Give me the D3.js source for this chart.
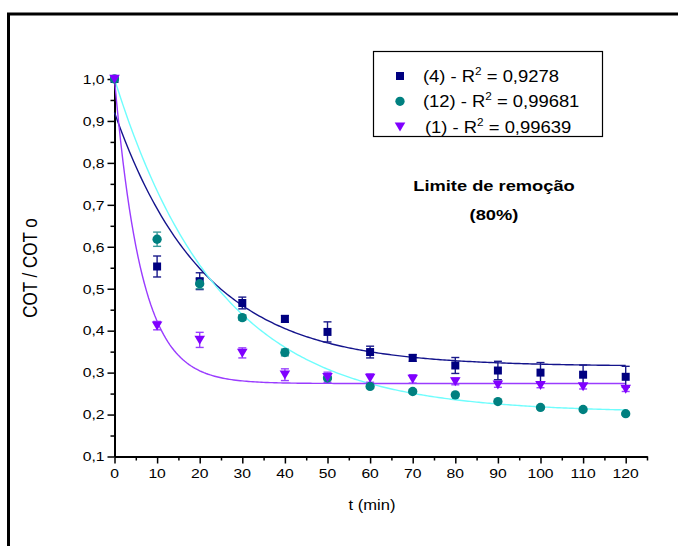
<!DOCTYPE html>
<html><head><meta charset="utf-8">
<script src="https://cdn.jsdelivr.net/npm/d3@7"></script>
<style>
body{margin:0;background:#fff;}
svg{display:block;font-family:"Liberation Sans",Arial,Helvetica,sans-serif;}
</style>
</head><body>
<svg id="chart" width="678" height="546"></svg>
<script>
// Sampling times (min)
const times = [0, 10, 20, 30, 40, 50, 60, 70, 80, 90, 100, 110, 120];

// COT / COT0 per run, with standard deviations
const run4 = [1.0, 0.553, 0.518, 0.466, 0.428, 0.397, 0.349, 0.335, 0.317, 0.305, 0.300, 0.295, 0.290];
const run4Err = [0, 0.025, 0.020, 0.014, 0.008, 0.024, 0.014, 0.008, 0.019, 0.022, 0.024, 0.023, 0.025];
const run12 = [1.0, 0.618, 0.512, 0.431, 0.348, 0.287, 0.267, 0.255, 0.247, 0.231, 0.217, 0.212, 0.202];
const run12Err = [0, 0.017, 0.012, 0.006, 0.008, 0.004, 0.004, 0.004, 0.003, 0.003, 0.003, 0.003, 0.003];
const run1 = [1.0, 0.412, 0.378, 0.347, 0.295, 0.289, 0.287, 0.285, 0.279, 0.271, 0.270, 0.267, 0.261];
const run1Err = [0, 0.010, 0.018, 0.012, 0.014, 0.012, 0.010, 0.010, 0.008, 0.006, 0.006, 0.006, 0.006];

// First-order exponential decay fits: y = y0 + A*exp(-t/tau)
const fitY0 = [0.315, 0.205, 0.274];
const fitA = [0.605, 0.795, 0.726];
const fitTau = [21, 24.5, 6.3];

// Legend entries
const legendLabels = ["(4)", "(12)", " (1)"];
const legendR2 = ["0,9278", "0,99681", "0,99639"];

// Axis ticks
const xTicks = [0, 10, 20, 30, 40, 50, 60, 70, 80, 90, 100, 110, 120];
const yTicks = [0.1, 0.2, 0.3, 0.4, 0.5, 0.6, 0.7, 0.8, 0.9, 1.0];

const SX = 1.18; // horizontal glyph stretch
const svg = d3.select("#chart");

// outer frame
svg.append("rect").attr("x", 8.5).attr("y", 14).attr("width", 720).attr("height", 620)
  .attr("fill", "none").attr("stroke", "#000").attr("stroke-width", 3);

const x = d3.scaleLinear().domain([0, 125]).range([114.5, 647]);
const y = d3.scaleLinear().domain([0.1, 1.0]).range([456.5, 79]);

function stext(parent, px, py, str, size, anchor, opts = {}) {
  const g = parent.append("g")
    .attr("transform", `translate(${px},${py}) scale(${SX},1)` + (opts.rotate ? ` rotate(${opts.rotate})` : ""));
  const t = g.append("text").attr("x", 0).attr("y", 0)
    .attr("font-size", size).attr("text-anchor", anchor).attr("fill", "#000");
  if (opts.bold) t.attr("font-weight", "bold");
  t.text(str);
  return t;
}

// axes: major and minor ticks
const axG = svg.append("g");
const xMinor = d3.range(5, 126, 10);
const yMinor = d3.range(0.15, 1.0, 0.1);

axG.append("g").attr("transform", `translate(0,${y(0.1)})`)
  .call(d3.axisBottom(x).tickValues(xTicks).tickSize(7).tickSizeOuter(0).tickFormat(""));
axG.append("g").attr("transform", `translate(0,${y(0.1)})`)
  .call(d3.axisBottom(x).tickValues(xMinor).tickSize(4).tickSizeOuter(0).tickFormat(""));
axG.append("g").attr("transform", `translate(${x(0)},0)`)
  .call(d3.axisLeft(y).tickValues(yTicks).tickSize(7).tickSizeOuter(0).tickFormat(""));
axG.append("g").attr("transform", `translate(${x(0)},0)`)
  .call(d3.axisLeft(y).tickValues(yMinor).tickSize(4).tickSizeOuter(0).tickFormat(""));
axG.selectAll(".domain").attr("stroke", "#000").attr("stroke-width", 2);
axG.selectAll(".tick line").attr("stroke", "#000").attr("stroke-width", 1.5);

const fmt = d3.format(".1f");
xTicks.forEach(v => stext(svg, x(v), 477.5, String(v), 13.3, "middle"));
yTicks.forEach(v => stext(svg, x(0) - 10, y(v) + 4.8, fmt(v).replace(".", ","), 13.3, "end"));

stext(svg, 372, 510, "t (min)", 14, "middle");
stext(svg, 37, 268, "COT / COT o", 17, "middle", { rotate: -90 });

// fitted curves
const colors = ["#000080", "#008080", "#8000ff"];
const lineColors = ["#14148c", "#6ffdfd", "#9a3cff"];
const tGrid = d3.range(0, 120.01, 0.5);
const line = d3.line().x(d => x(d[0])).y(d => y(d[1]));
[0, 1, 2].forEach(i => {
  const pts = tGrid.map(t => [t, fitY0[i] + fitA[i] * Math.exp(-t / fitTau[i])]);
  svg.append("path").attr("d", line(pts)).attr("fill", "none")
    .attr("stroke", lineColors[i]).attr("stroke-width", 1.4);
});

// error bars
const series = [
  { v: run4, e: run4Err, c: colors[0], ec: "#1a1a8a" },
  { v: run12, e: run12Err, c: colors[1], ec: "#3a9a9a" },
  { v: run1, e: run1Err, c: colors[2], ec: "#9a40ff" }
];
series.forEach(s => {
  const g = svg.append("g").attr("stroke", s.ec).attr("stroke-width", 1.4);
  times.forEach((t, i) => {
    if (!s.e[i]) return;
    const cx = x(t), y1 = y(s.v[i] + s.e[i]), y2 = y(s.v[i] - s.e[i]);
    g.append("line").attr("x1", cx).attr("x2", cx).attr("y1", y1).attr("y2", y2);
    g.append("line").attr("x1", cx - 4).attr("x2", cx + 4).attr("y1", y1).attr("y2", y1);
    g.append("line").attr("x1", cx - 4).attr("x2", cx + 4).attr("y1", y2).attr("y2", y2);
  });
});

// markers
const sq = d3.symbol(d3.symbolSquare, 64);
const circ = d3.symbol(d3.symbolCircle, 68);
const tri = "M-5.3,-4.2L5.3,-4.2L0,4.8Z";
function drawMarker(g, kind, cx, cy, c) {
  const p = g.append("path").attr("transform", `translate(${cx},${cy})`).attr("fill", c);
  if (kind === 0) p.attr("d", sq());
  else if (kind === 1) p.attr("d", circ());
  else p.attr("d", tri);
}
series.forEach((s, k) => {
  const g = svg.append("g");
  times.forEach((t, i) => drawMarker(g, k, x(t), y(s.v[i]), s.c));
});

// legend
const lg = svg.append("g");
lg.append("rect").attr("x", 373.5).attr("y", 51.5).attr("width", 229).attr("height", 85)
  .attr("fill", "#fff").attr("stroke", "#000").attr("stroke-width", 1.2);
legendLabels.forEach((lab, i) => {
  const cy = 76 + i * 25.3;
  drawMarker(lg, i, 400, cy, colors[i]);
  const t = stext(lg, i === 2 ? 425 : 423, cy + 6, "", 15.6, "start");
  t.append("tspan").text(lab + " - R");
  t.append("tspan").attr("font-size", 10).attr("dy", -7).text("2");
  t.append("tspan").attr("dy", 7).text(" = " + legendR2[i]);
});

// annotation
stext(svg, 494, 191, "Limite de remoção", 15.5, "middle", { bold: true });
stext(svg, 494, 220, "(80%)", 15.5, "middle", { bold: true });
</script>
</body></html>
